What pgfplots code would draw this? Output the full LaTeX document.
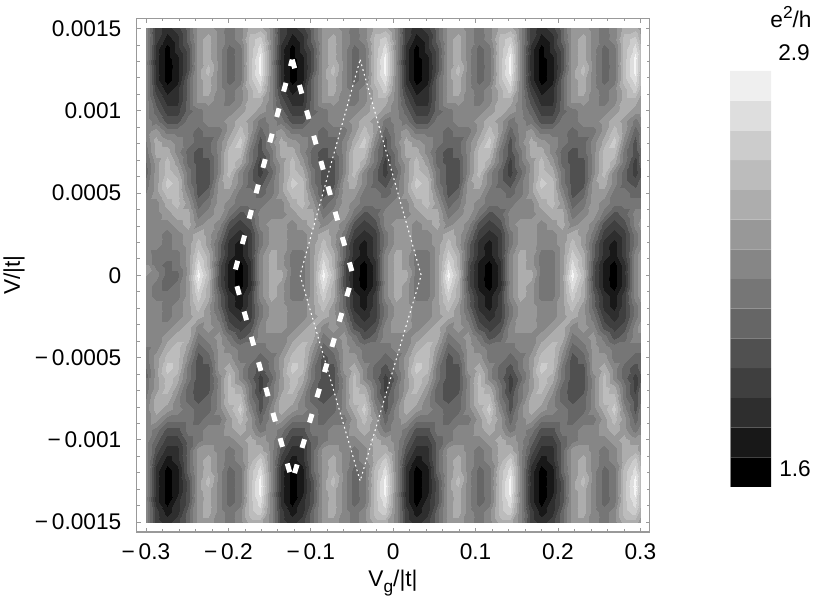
\documentclass[border=0pt]{standalone}
\usepackage{pgfplots}
\usepackage{fontspec}
\setmainfont{Liberation Sans}
\pgfplotsset{compat=1.18}
\definecolor{frameg}{gray}{0.6}
\begin{document}
\begin{tikzpicture}[x=0.75pt,y=0.75pt]
\path[use as bounding box] (0,0) rectangle (817,603);
\begin{axis}[
  at={(102.5pt,53.25pt)},anchor=south west,
  scale only axis,width=384.75pt,height=385.1pt,
  xmin=-0.3113,xmax=0.3113,ymin=-0.00156,ymax=0.00156,
  scaled x ticks=false,scaled y ticks=false,
  tick align=inside,
  axis line style={frameg,line width=0.9pt},
  every tick/.style={frameg,line width=0.6pt},
  every minor tick/.style={frameg,line width=0.5pt},
  major tick length=3pt,minor tick length=2.2pt,
  xtick={-0.3,-0.2,-0.1,0,0.1,0.2,0.3},
  xticklabels={−\,0.3,−\,0.2,−\,0.1,0,0.1,0.2,0.3},
  ytick={-0.0015,-0.001,-0.0005,0,0.0005,0.001,0.0015},
  yticklabels={−\,0.0015,−\,0.001,−\,0.0005,0,0.0005,0.001,0.0015},
  minor x tick num=4,minor y tick num=4,
  tick label style={font=\fontsize{17}{20}\selectfont},
  xticklabel pos=lower,yticklabel pos=left,
  xticklabel style={yshift=-5pt},
  yticklabel style={xshift=-8pt},
  colormap={steps}{gray(0)=(0);gray(98)=(0);
    gray(100)=(.094);gray(198)=(.094);gray(200)=(.18);gray(298)=(.18);
    gray(300)=(.247);gray(398)=(.247);gray(400)=(.314);gray(498)=(.314);
    gray(500)=(.4);gray(598)=(.4);gray(600)=(.463);gray(698)=(.463);
    gray(700)=(.525);gray(798)=(.525);gray(800)=(.596);gray(898)=(.596);
    gray(900)=(.678);gray(998)=(.678);gray(1000)=(.737);gray(1098)=(.737);
    gray(1100)=(.8);gray(1198)=(.8);gray(1200)=(.87);gray(1298)=(.87);
    gray(1300)=(.96);gray(1400)=(.96)},
  point meta min=15.5,point meta max=29.5,
]
\addplot[surf,shader=interp,mesh/cols=49,point meta=explicit] table[header=false,row sep=\\,
  x expr={min(0.3,-0.3+mod(\coordindex,49)*0.012622)},
  y expr={0.0015-floor(\coordindex/49)*0.0000625},
  meta index=0]{
23\\19\\18\\19\\21\\24\\24\\23\\22\\23\\25\\25\\23\\19\\18\\19\\21\\24\\24\\23\\22\\23\\25\\25\\23\\19\\18\\19\\21\\24\\24\\23\\22\\23\\25\\25\\23\\19\\18\\19\\21\\24\\24\\23\\22\\23\\25\\25\\24\\
23\\19\\17\\18\\21\\24\\25\\23\\22\\23\\26\\27\\23\\19\\17\\18\\21\\24\\25\\23\\22\\23\\26\\27\\23\\19\\17\\18\\21\\24\\25\\23\\22\\23\\26\\27\\23\\19\\17\\18\\21\\24\\25\\23\\22\\23\\26\\27\\25\\
23\\18\\16\\18\\20\\24\\25\\23\\21\\22\\26\\28\\23\\18\\16\\18\\20\\24\\25\\23\\21\\22\\26\\28\\23\\18\\16\\18\\20\\24\\25\\23\\21\\22\\26\\28\\23\\18\\16\\18\\20\\24\\25\\23\\21\\22\\26\\28\\26\\
23\\18\\16\\17\\20\\24\\25\\23\\21\\22\\26\\29\\23\\18\\16\\17\\20\\24\\25\\23\\21\\22\\26\\29\\23\\18\\16\\17\\20\\24\\25\\23\\21\\22\\26\\29\\23\\18\\16\\17\\20\\24\\25\\23\\21\\22\\26\\29\\26\\
23\\18\\16\\17\\20\\24\\26\\23\\21\\22\\26\\29\\23\\18\\16\\17\\20\\24\\26\\23\\21\\22\\26\\29\\23\\18\\16\\17\\20\\24\\26\\23\\21\\22\\26\\29\\23\\18\\16\\17\\20\\24\\26\\23\\21\\22\\26\\29\\26\\
23\\18\\16\\17\\21\\24\\25\\23\\21\\22\\26\\28\\23\\18\\16\\17\\21\\24\\25\\23\\21\\22\\26\\28\\23\\18\\16\\17\\21\\24\\25\\23\\21\\22\\26\\28\\23\\18\\16\\17\\21\\24\\25\\23\\21\\22\\26\\28\\26\\
23\\19\\17\\18\\21\\24\\25\\23\\22\\23\\25\\27\\23\\19\\17\\18\\21\\24\\25\\23\\22\\23\\25\\27\\23\\19\\17\\18\\21\\24\\25\\23\\22\\23\\25\\27\\23\\19\\17\\18\\21\\24\\25\\23\\22\\23\\25\\27\\25\\
23\\20\\18\\18\\21\\24\\24\\23\\22\\23\\25\\25\\23\\20\\18\\18\\21\\24\\24\\23\\22\\23\\25\\25\\23\\20\\18\\18\\21\\24\\24\\23\\22\\23\\25\\25\\23\\20\\18\\18\\21\\24\\24\\23\\22\\23\\25\\25\\24\\
23\\21\\19\\19\\21\\22\\23\\23\\23\\24\\25\\24\\23\\21\\19\\19\\21\\22\\23\\23\\23\\24\\25\\24\\23\\21\\19\\19\\21\\22\\23\\23\\23\\24\\25\\24\\23\\21\\19\\19\\21\\22\\23\\23\\23\\24\\25\\24\\24\\
23\\22\\20\\20\\22\\22\\23\\23\\24\\25\\24\\22\\23\\22\\20\\20\\22\\22\\23\\23\\24\\25\\24\\22\\23\\22\\20\\20\\22\\22\\23\\23\\24\\25\\24\\22\\23\\22\\20\\20\\22\\22\\23\\23\\24\\25\\24\\22\\23\\
23\\24\\22\\22\\22\\21\\22\\22\\24\\26\\24\\21\\23\\24\\22\\22\\22\\21\\22\\22\\24\\26\\24\\21\\23\\24\\22\\22\\22\\21\\22\\22\\24\\26\\24\\21\\23\\24\\22\\22\\22\\21\\22\\22\\24\\26\\24\\21\\22\\
23\\25\\24\\23\\22\\21\\21\\23\\25\\27\\23\\20\\23\\25\\24\\23\\22\\21\\21\\23\\25\\27\\23\\20\\23\\25\\24\\23\\22\\21\\21\\23\\25\\27\\23\\20\\23\\25\\24\\23\\22\\21\\21\\23\\25\\27\\23\\20\\22\\
22\\25\\25\\23\\21\\20\\21\\23\\26\\26\\22\\20\\22\\25\\25\\23\\21\\20\\21\\23\\26\\26\\22\\20\\22\\25\\25\\23\\21\\20\\21\\23\\26\\26\\22\\20\\22\\25\\25\\23\\21\\20\\21\\23\\26\\26\\22\\20\\21\\
22\\24\\26\\24\\21\\20\\20\\23\\26\\25\\22\\19\\22\\24\\26\\24\\21\\20\\20\\23\\26\\25\\22\\19\\22\\24\\26\\24\\21\\20\\20\\23\\26\\25\\22\\19\\22\\24\\26\\24\\21\\20\\20\\23\\26\\25\\22\\19\\21\\
21\\24\\26\\25\\22\\20\\20\\23\\26\\23\\21\\19\\21\\24\\26\\25\\22\\20\\20\\23\\26\\23\\21\\19\\21\\24\\26\\25\\22\\20\\20\\23\\26\\23\\21\\19\\21\\24\\26\\25\\22\\20\\20\\23\\26\\23\\21\\19\\20\\
22\\24\\27\\26\\22\\20\\20\\24\\25\\23\\21\\20\\22\\24\\27\\26\\22\\20\\20\\24\\25\\23\\21\\20\\22\\24\\27\\26\\22\\20\\20\\24\\25\\23\\21\\20\\22\\24\\27\\26\\22\\20\\20\\24\\25\\23\\21\\20\\21\\
22\\24\\26\\26\\23\\20\\21\\24\\24\\22\\22\\21\\22\\24\\26\\26\\23\\20\\21\\24\\24\\22\\22\\21\\22\\24\\26\\26\\23\\20\\21\\24\\24\\22\\22\\21\\22\\24\\26\\26\\23\\20\\21\\24\\24\\22\\22\\21\\21\\
23\\23\\25\\26\\24\\21\\22\\24\\23\\22\\22\\22\\23\\23\\25\\26\\24\\21\\22\\24\\23\\22\\22\\22\\23\\23\\25\\26\\24\\21\\22\\24\\23\\22\\22\\22\\23\\23\\25\\26\\24\\21\\22\\24\\23\\22\\22\\22\\22\\
23\\23\\24\\25\\25\\22\\23\\24\\22\\20\\21\\23\\23\\23\\24\\25\\25\\22\\23\\24\\22\\20\\21\\23\\23\\23\\24\\25\\25\\22\\23\\24\\22\\20\\21\\23\\23\\23\\24\\25\\25\\22\\23\\24\\22\\20\\21\\23\\23\\
23\\23\\23\\24\\25\\23\\24\\23\\20\\19\\20\\23\\24\\24\\23\\24\\25\\23\\24\\23\\20\\19\\20\\23\\24\\24\\23\\24\\25\\23\\24\\23\\20\\19\\20\\23\\24\\24\\23\\24\\25\\23\\24\\23\\20\\19\\20\\23\\24\\
23\\23\\22\\23\\24\\25\\24\\22\\19\\18\\19\\22\\24\\24\\23\\23\\24\\25\\24\\22\\19\\18\\19\\22\\24\\24\\23\\23\\24\\25\\24\\22\\19\\18\\19\\22\\24\\24\\23\\23\\24\\25\\24\\22\\19\\18\\19\\22\\23\\
23\\23\\22\\23\\24\\26\\24\\21\\18\\17\\19\\22\\24\\24\\23\\23\\24\\26\\24\\21\\18\\17\\19\\22\\24\\24\\23\\23\\24\\26\\24\\21\\18\\17\\19\\22\\24\\24\\23\\23\\24\\26\\24\\21\\18\\17\\19\\22\\23\\
23\\22\\22\\22\\24\\27\\25\\21\\18\\17\\19\\23\\25\\24\\22\\22\\24\\27\\25\\21\\18\\17\\19\\23\\25\\24\\22\\22\\24\\27\\25\\21\\18\\17\\19\\23\\25\\24\\22\\22\\24\\27\\25\\21\\18\\17\\19\\23\\24\\
23\\22\\21\\22\\24\\28\\25\\20\\17\\16\\18\\23\\25\\24\\22\\22\\24\\28\\25\\20\\17\\16\\18\\23\\25\\24\\22\\22\\24\\28\\25\\20\\17\\16\\18\\23\\25\\24\\22\\22\\24\\28\\25\\20\\17\\16\\18\\23\\24\\
24\\23\\21\\21\\24\\29\\26\\20\\17\\16\\18\\23\\25\\25\\22\\22\\24\\29\\26\\20\\17\\16\\18\\23\\25\\25\\22\\22\\24\\29\\26\\20\\17\\16\\18\\23\\25\\25\\22\\22\\24\\29\\26\\20\\17\\16\\18\\23\\24\\
23\\22\\21\\22\\24\\28\\25\\20\\17\\16\\18\\23\\25\\24\\22\\22\\24\\28\\25\\20\\17\\16\\18\\23\\25\\24\\22\\22\\24\\28\\25\\20\\17\\16\\18\\23\\25\\24\\22\\22\\24\\28\\25\\20\\17\\16\\18\\23\\24\\
23\\22\\22\\22\\24\\27\\25\\21\\18\\17\\19\\23\\25\\24\\22\\22\\24\\27\\25\\21\\18\\17\\19\\23\\25\\24\\22\\22\\24\\27\\25\\21\\18\\17\\19\\23\\25\\24\\22\\22\\24\\27\\25\\21\\18\\17\\19\\23\\24\\
23\\23\\22\\23\\24\\26\\24\\21\\18\\17\\19\\22\\24\\24\\23\\23\\24\\26\\24\\21\\18\\17\\19\\22\\24\\24\\23\\23\\24\\26\\24\\21\\18\\17\\19\\22\\24\\24\\23\\23\\24\\26\\24\\21\\18\\17\\19\\22\\23\\
23\\23\\22\\23\\24\\25\\24\\22\\19\\18\\19\\22\\24\\24\\23\\23\\24\\25\\24\\22\\19\\18\\19\\22\\24\\24\\23\\23\\24\\25\\24\\22\\19\\18\\19\\22\\24\\24\\23\\23\\24\\25\\24\\22\\19\\18\\19\\22\\23\\
23\\23\\23\\24\\25\\23\\24\\23\\20\\19\\20\\23\\24\\24\\23\\24\\25\\23\\24\\23\\20\\19\\20\\23\\24\\24\\23\\24\\25\\23\\24\\23\\20\\19\\20\\23\\24\\24\\23\\24\\25\\23\\24\\23\\20\\19\\20\\23\\24\\
23\\23\\24\\25\\25\\22\\23\\24\\22\\20\\21\\23\\23\\23\\24\\25\\25\\22\\23\\24\\22\\20\\21\\23\\23\\23\\24\\25\\25\\22\\23\\24\\22\\20\\21\\23\\23\\23\\24\\25\\25\\22\\23\\24\\22\\20\\21\\23\\23\\
23\\23\\25\\26\\24\\21\\22\\24\\23\\22\\22\\22\\23\\23\\25\\26\\24\\21\\22\\24\\23\\22\\22\\22\\23\\23\\25\\26\\24\\21\\22\\24\\23\\22\\22\\22\\23\\23\\25\\26\\24\\21\\22\\24\\23\\22\\22\\22\\22\\
22\\24\\26\\26\\23\\20\\21\\24\\24\\22\\22\\21\\22\\24\\26\\26\\23\\20\\21\\24\\24\\22\\22\\21\\22\\24\\26\\26\\23\\20\\21\\24\\24\\22\\22\\21\\22\\24\\26\\26\\23\\20\\21\\24\\24\\22\\22\\21\\21\\
22\\24\\27\\26\\22\\20\\20\\24\\25\\23\\21\\20\\22\\24\\27\\26\\22\\20\\20\\24\\25\\23\\21\\20\\22\\24\\27\\26\\22\\20\\20\\24\\25\\23\\21\\20\\22\\24\\27\\26\\22\\20\\20\\24\\25\\23\\21\\20\\21\\
21\\24\\26\\25\\22\\20\\20\\23\\26\\23\\21\\19\\21\\24\\26\\25\\22\\20\\20\\23\\26\\23\\21\\19\\21\\24\\26\\25\\22\\20\\20\\23\\26\\23\\21\\19\\21\\24\\26\\25\\22\\20\\20\\23\\26\\23\\21\\19\\20\\
22\\24\\26\\24\\21\\20\\20\\23\\26\\25\\22\\19\\22\\24\\26\\24\\21\\20\\20\\23\\26\\25\\22\\19\\22\\24\\26\\24\\21\\20\\20\\23\\26\\25\\22\\19\\22\\24\\26\\24\\21\\20\\20\\23\\26\\25\\22\\19\\21\\
22\\25\\25\\23\\21\\20\\21\\23\\26\\26\\22\\20\\22\\25\\25\\23\\21\\20\\21\\23\\26\\26\\22\\20\\22\\25\\25\\23\\21\\20\\21\\23\\26\\26\\22\\20\\22\\25\\25\\23\\21\\20\\21\\23\\26\\26\\22\\20\\21\\
23\\25\\24\\23\\22\\21\\21\\23\\25\\27\\23\\20\\23\\25\\24\\23\\22\\21\\21\\23\\25\\27\\23\\20\\23\\25\\24\\23\\22\\21\\21\\23\\25\\27\\23\\20\\23\\25\\24\\23\\22\\21\\21\\23\\25\\27\\23\\20\\22\\
23\\24\\22\\22\\22\\21\\22\\22\\24\\26\\24\\21\\23\\24\\22\\22\\22\\21\\22\\22\\24\\26\\24\\21\\23\\24\\22\\22\\22\\21\\22\\22\\24\\26\\24\\21\\23\\24\\22\\22\\22\\21\\22\\22\\24\\26\\24\\21\\22\\
23\\22\\20\\20\\22\\22\\23\\23\\24\\25\\24\\22\\23\\22\\20\\20\\22\\22\\23\\23\\24\\25\\24\\22\\23\\22\\20\\20\\22\\22\\23\\23\\24\\25\\24\\22\\23\\22\\20\\20\\22\\22\\23\\23\\24\\25\\24\\22\\23\\
23\\21\\19\\19\\21\\22\\23\\23\\23\\24\\25\\24\\23\\21\\19\\19\\21\\22\\23\\23\\23\\24\\25\\24\\23\\21\\19\\19\\21\\22\\23\\23\\23\\24\\25\\24\\23\\21\\19\\19\\21\\22\\23\\23\\23\\24\\25\\24\\24\\
23\\20\\18\\18\\21\\24\\24\\23\\22\\23\\25\\25\\23\\20\\18\\18\\21\\24\\24\\23\\22\\23\\25\\25\\23\\20\\18\\18\\21\\24\\24\\23\\22\\23\\25\\25\\23\\20\\18\\18\\21\\24\\24\\23\\22\\23\\25\\25\\24\\
23\\19\\17\\18\\21\\24\\25\\23\\22\\23\\25\\27\\23\\19\\17\\18\\21\\24\\25\\23\\22\\23\\25\\27\\23\\19\\17\\18\\21\\24\\25\\23\\22\\23\\25\\27\\23\\19\\17\\18\\21\\24\\25\\23\\22\\23\\25\\27\\25\\
23\\18\\16\\17\\21\\24\\25\\23\\21\\22\\26\\28\\23\\18\\16\\17\\21\\24\\25\\23\\21\\22\\26\\28\\23\\18\\16\\17\\21\\24\\25\\23\\21\\22\\26\\28\\23\\18\\16\\17\\21\\24\\25\\23\\21\\22\\26\\28\\26\\
23\\18\\16\\17\\20\\24\\26\\23\\21\\22\\26\\29\\23\\18\\16\\17\\20\\24\\26\\23\\21\\22\\26\\29\\23\\18\\16\\17\\20\\24\\26\\23\\21\\22\\26\\29\\23\\18\\16\\17\\20\\24\\26\\23\\21\\22\\26\\29\\26\\
23\\18\\16\\17\\20\\24\\25\\23\\21\\22\\26\\29\\23\\18\\16\\17\\20\\24\\25\\23\\21\\22\\26\\29\\23\\18\\16\\17\\20\\24\\25\\23\\21\\22\\26\\29\\23\\18\\16\\17\\20\\24\\25\\23\\21\\22\\26\\29\\26\\
23\\18\\16\\18\\20\\24\\25\\23\\21\\22\\26\\28\\23\\18\\16\\18\\20\\24\\25\\23\\21\\22\\26\\28\\23\\18\\16\\18\\20\\24\\25\\23\\21\\22\\26\\28\\23\\18\\16\\18\\20\\24\\25\\23\\21\\22\\26\\28\\26\\
23\\19\\17\\18\\21\\24\\25\\23\\22\\23\\26\\27\\23\\19\\17\\18\\21\\24\\25\\23\\22\\23\\26\\27\\23\\19\\17\\18\\21\\24\\25\\23\\22\\23\\26\\27\\23\\19\\17\\18\\21\\24\\25\\23\\22\\23\\26\\27\\25\\
23\\19\\18\\19\\21\\24\\24\\23\\22\\23\\25\\25\\23\\19\\18\\19\\21\\24\\24\\23\\22\\23\\25\\25\\23\\19\\18\\19\\21\\24\\24\\23\\22\\23\\25\\25\\23\\19\\18\\19\\21\\24\\24\\23\\22\\23\\25\\25\\24\\
};
\addplot[white,line width=3.75pt,dash pattern=on 6.75pt off 13pt] coordinates {(-0.1225,0.00131)(-0.0487,0)(-0.1225,-0.00125)(-0.1934,0)(-0.1225,0.00131)};
\addplot[white,line width=0.8pt,dash pattern=on 1.3pt off 2.4pt] coordinates {(-0.0401,0.00131)(0.034,0)(-0.0401,-0.00125)(-0.113,0)(-0.0401,0.00131)};
\end{axis}
\begin{axis}[
  at={(547.5pt,87pt)},anchor=south west,scale only axis,width=30.75pt,height=312pt,
  xmin=0,xmax=1,ymin=0,ymax=14,hide axis,
]
\addplot[draw=none,fill={rgb,1:red,0;green,0;blue,0}] coordinates {(0,0)(1,0)(1,1)(0,1)} \closedcycle;
\addplot[draw=none,fill={rgb,1:red,.094;green,.094;blue,.094}] coordinates {(0,1)(1,1)(1,2)(0,2)} \closedcycle;
\addplot[draw=none,fill={rgb,1:red,.18;green,.18;blue,.18}] coordinates {(0,2)(1,2)(1,3)(0,3)} \closedcycle;
\addplot[draw=none,fill={rgb,1:red,.247;green,.247;blue,.247}] coordinates {(0,3)(1,3)(1,4)(0,4)} \closedcycle;
\addplot[draw=none,fill={rgb,1:red,.314;green,.314;blue,.314}] coordinates {(0,4)(1,4)(1,5)(0,5)} \closedcycle;
\addplot[draw=none,fill={rgb,1:red,.4;green,.4;blue,.4}] coordinates {(0,5)(1,5)(1,6)(0,6)} \closedcycle;
\addplot[draw=none,fill={rgb,1:red,.463;green,.463;blue,.463}] coordinates {(0,6)(1,6)(1,7)(0,7)} \closedcycle;
\addplot[draw=none,fill={rgb,1:red,.525;green,.525;blue,.525}] coordinates {(0,7)(1,7)(1,8)(0,8)} \closedcycle;
\addplot[draw=none,fill={rgb,1:red,.596;green,.596;blue,.596}] coordinates {(0,8)(1,8)(1,9)(0,9)} \closedcycle;
\addplot[draw=none,fill={rgb,1:red,.678;green,.678;blue,.678}] coordinates {(0,9)(1,9)(1,10)(0,10)} \closedcycle;
\addplot[draw=none,fill={rgb,1:red,.737;green,.737;blue,.737}] coordinates {(0,10)(1,10)(1,11)(0,11)} \closedcycle;
\addplot[draw=none,fill={rgb,1:red,.8;green,.8;blue,.8}] coordinates {(0,11)(1,11)(1,12)(0,12)} \closedcycle;
\addplot[draw=none,fill={rgb,1:red,.87;green,.87;blue,.87}] coordinates {(0,12)(1,12)(1,13)(0,13)} \closedcycle;
\addplot[draw=none,fill={rgb,1:red,.937;green,.937;blue,.937}] coordinates {(0,13)(1,13)(1,14)(0,14)} \closedcycle;
\end{axis}
\def\lab{\fontsize{17}{20}\selectfont}
\node[rotate=90,font=\lab] at (14,328) {V/|t|};
\node[font=\lab] at (393,20) {V\raisebox{-4pt}{\fontsize{13}{13}\selectfont g}/|t|};
\node[font=\lab] at (791,586) {e\raisebox{7pt}{\fontsize{13}{13}\selectfont 2}/h};
\node[font=\lab] at (794,550) {2.9};
\node[font=\lab] at (795,134) {1.6};
\end{tikzpicture}
\end{document}
